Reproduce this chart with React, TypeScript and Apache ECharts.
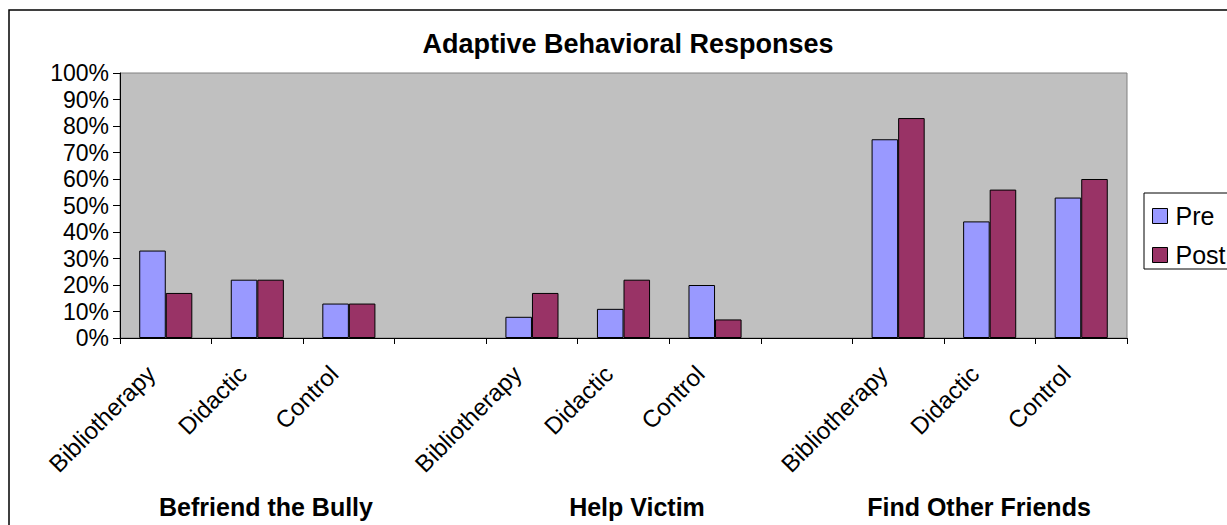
import React, { useEffect, useRef } from "react";
import * as echarts from "echarts";

const categories = [
  "Bibliotherapy", "Didactic", "Control", "",
  "Bibliotherapy", "Didactic", "Control", "",
  "Bibliotherapy", "Didactic", "Control",
];
const preValues = [0.33, 0.22, 0.13, null, 0.08, 0.11, 0.2, null, 0.75, 0.44, 0.53];
const postValues = [0.17, 0.22, 0.13, null, 0.17, 0.22, 0.07, null, 0.83, 0.56, 0.6];
const groupLabels = ["Befriend the Bully", "Help Victim", "Find Other Friends"];
const groupLabelX = [266, 637, 979];
const seriesNames = ["Pre", "Post"];

const FONT = "Liberation Sans, Arial, sans-serif";

export default function App() {
  const ref = useRef<HTMLDivElement>(null);
  useEffect(() => {
    document.body.style.margin = "0";
    const chart = echarts.init(ref.current!, null, { renderer: "svg" });
    chart.setOption({
      animation: false,
      backgroundColor: "#ffffff",
      textStyle: { fontFamily: FONT },
      title: {
        text: "Adaptive Behavioral Responses",
        left: 623,
        textAlign: "center",
        top: 25,
        textStyle: { fontFamily: FONT, fontSize: 27, fontWeight: "bold", color: "#000" },
      },
      legend: {
        orient: "vertical",
        left: 1144,
        top: 193,
        padding: [9, 20, 0, 8],
        itemGap: 11,
        itemWidth: 15,
        itemHeight: 15,
        icon: "rect",
        borderColor: "#000",
        borderWidth: 1,
        itemStyle: { borderColor: "#000", borderWidth: 1 },
        textStyle: { fontFamily: FONT, fontSize: 25, color: "#000", lineHeight: 28, padding: [0, 0, 0, 3] },
        data: seriesNames,
      },
      grid: {
        left: 120,
        top: 73,
        right: 100,
        bottom: 187,
        show: true,
        backgroundColor: "#C0C0C0",
        borderColor: "#808080",
        borderWidth: 1,
      },
      xAxis: {
        type: "category",
        data: categories,
        axisLine: { show: true, lineStyle: { color: "#000", width: 1 } },
        axisTick: { show: true, length: 6, interval: 0, lineStyle: { color: "#000" } },
        axisLabel: {
          interval: 0,
          rotate: 45,
          margin: 17,
          padding: [0, 21, 0, 0],
          fontFamily: FONT,
          fontSize: 24,
          color: "#000",
        },
        splitLine: { show: false },
      },
      yAxis: {
        type: "value",
        min: 0,
        max: 1,
        interval: 0.1,
        axisLine: { show: true, lineStyle: { color: "#000", width: 1 } },
        axisTick: { show: true, length: 7, lineStyle: { color: "#000" } },
        axisLabel: {
          fontFamily: FONT,
          fontSize: 23,
          color: "#000",
          margin: 11,
          formatter: (v: number) => Math.round(v * 100) + "%",
        },
        splitLine: { show: false },
      },
      series: [
        {
          name: seriesNames[0],
          type: "bar",
          data: preValues,
          barGap: "0%",
          barCategoryGap: "42%",
          itemStyle: { color: "#9999FF", borderColor: "#000", borderWidth: 1 },
        },
        {
          name: seriesNames[1],
          type: "bar",
          data: postValues,
          barGap: "0%",
          barCategoryGap: "42%",
          itemStyle: { color: "#993366", borderColor: "#000", borderWidth: 1 },
        },
      ],
      graphic: [
        {
          type: "rect",
          shape: { x: 9, y: 10, width: 1300, height: 600 },
          style: { fill: "none", stroke: "#000", lineWidth: 1.5 },
          silent: true,
          z: 100,
        },
        ...groupLabels.map((t, i) => ({
          type: "text",
          x: groupLabelX[i],
          y: 507,
          style: {
            text: t,
            fontFamily: FONT,
            fontSize: 25,
            fontWeight: "bold",
            fill: "#000",
            textAlign: "center",
            textVerticalAlign: "middle",
          },
        })),
      ],
    });
    return () => chart.dispose();
  }, []);
  return <div ref={ref} style={{ width: 1227, height: 525 }} />;
}
